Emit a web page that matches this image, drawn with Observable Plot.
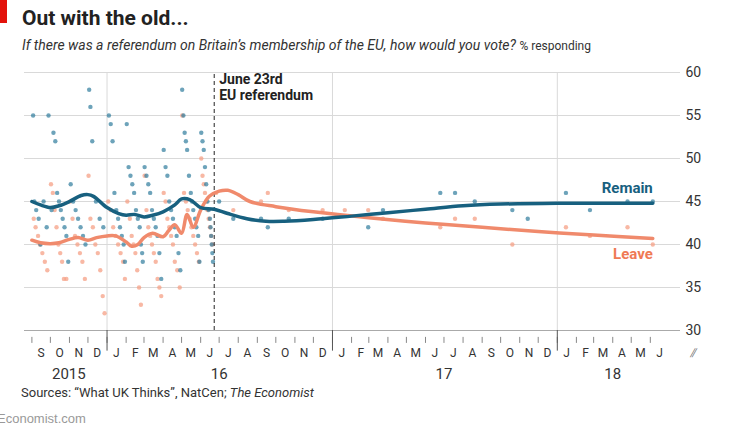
<!DOCTYPE html>
<html><head><meta charset="utf-8">
<script src="https://cdn.jsdelivr.net/npm/d3@7"></script>
<script src="https://cdn.jsdelivr.net/npm/@observablehq/plot@0.6"></script>
<style>
body{margin:0;background:#fff;font-family:"Liberation Sans Narrow","Roboto",sans-serif;width:731px;height:426px;position:relative;overflow:hidden}
#tag{position:absolute;left:0;top:0;width:7px;height:23px;background:#e3120b}
#title{position:absolute;left:22px;top:6px;font-size:21px;font-weight:bold;color:#222}
#sub{position:absolute;left:22px;top:37px;font-size:14px;color:#333}
#chart{position:absolute;left:0;top:62px}
#src{position:absolute;left:21px;top:385px;font-size:13px;color:#333}
#eco{position:absolute;left:-3px;top:411px;font-size:13px;color:#999;font-family:"Liberation Sans",sans-serif}
</style></head><body>
<div id="tag"></div>
<div id="title">Out with the old...</div>
<div id="sub"><i>If there was a referendum on Britain’s membership of the EU, how would you vote?</i> <span style="font-size:12px">% responding</span></div>
<div id="chart"></div>
<div id="src">Sources: “What UK Thinks”, NatCen; <i>The Economist</i></div>
<div id="eco">Economist.com</div>
<script>
const remainDots = [
["2015-09-03",55],["2015-09-05",45],["2015-09-08",44],["2015-09-12",43],["2015-09-15",40],["2015-09-20",45],["2015-09-25",42],["2015-09-28",55],
["2015-10-03",44],["2015-10-06",53],["2015-10-09",52],["2015-10-12",46],["2015-10-15",45],["2015-10-18",44],["2015-10-21",43],["2015-10-24",42],["2015-10-27",41],["2015-10-30",38],
["2015-11-03",47],["2015-11-07",45],["2015-11-11",44],["2015-11-15",43],["2015-11-19",42],["2015-11-23",41],["2015-11-27",40],
["2015-12-03",58],["2015-12-05",56],["2015-12-08",52],["2015-12-14",45],["2015-12-20",43],["2015-12-26",42],
["2016-01-04",55],["2016-01-07",54],["2016-01-10",52],["2016-01-13",46],["2016-01-16",44],["2016-01-19",43],["2016-01-22",42],["2016-01-25",41],["2016-01-28",40],["2016-01-30",38],
["2016-02-02",54],["2016-02-05",49],["2016-02-08",48],["2016-02-11",47],["2016-02-14",46],["2016-02-17",44],["2016-02-20",43],["2016-02-23",42],["2016-02-25",40],["2016-02-27",39],["2016-02-28",38],
["2016-03-02",49],["2016-03-05",48],["2016-03-08",47],["2016-03-11",46],["2016-03-14",44],["2016-03-17",43],["2016-03-20",42],["2016-03-23",41],["2016-03-26",39],["2016-03-29",36],
["2016-04-02",51],["2016-04-05",49],["2016-04-08",48],["2016-04-11",45],["2016-04-14",44],["2016-04-17",43],["2016-04-20",42],["2016-04-23",41],["2016-04-26",39],["2016-04-29",37],
["2016-05-02",58],["2016-05-04",55],["2016-05-06",53],["2016-05-08",52],["2016-05-10",51],["2016-05-13",48],["2016-05-16",46],["2016-05-18",45],["2016-05-20",44],["2016-05-23",43],["2016-05-25",42],["2016-05-28",41],["2016-05-30",38],
["2016-06-02",53],["2016-06-04",52],["2016-06-06",51],["2016-06-08",49],["2016-06-10",47],["2016-06-12",45],["2016-06-14",44],["2016-06-16",43],["2016-06-17",42],["2016-06-18",41],["2016-06-19",40],["2016-06-20",39],["2016-06-21",38],
["2016-07-01",45],["2016-07-24",43],["2016-09-07",43],["2016-09-18",42],["2016-10-22",43],["2016-12-16",43],["2017-02-28",42],["2017-03-24",44],
["2017-06-25",46],["2017-07-19",46],["2017-08-20",45],["2017-10-20",44],["2017-11-14",43],["2018-01-15",46],["2018-02-23",44],["2018-04-25",45],["2018-06-05",45]
];
const leaveDots = [
["2015-09-04",43],["2015-09-07",42],["2015-09-11",41],["2015-09-14",40],["2015-09-18",39],["2015-09-22",38],["2015-09-26",37],
["2015-10-02",47],["2015-10-05",46],["2015-10-08",44],["2015-10-11",42],["2015-10-14",40],["2015-10-17",39],["2015-10-20",38],["2015-10-23",36],["2015-10-27",36],
["2015-11-02",45],["2015-11-06",43],["2015-11-10",41],["2015-11-14",40],["2015-11-18",39],["2015-11-22",38],["2015-11-26",36],
["2015-12-02",48],["2015-12-05",43],["2015-12-09",42],["2015-12-13",40],["2015-12-17",39],["2015-12-21",37],["2015-12-25",34],["2015-12-28",32],
["2016-01-03",45],["2016-01-07",44],["2016-01-11",42],["2016-01-15",41],["2016-01-19",40],["2016-01-23",39],["2016-01-27",38],["2016-01-30",36],
["2016-02-03",45],["2016-02-07",43],["2016-02-10",41],["2016-02-13",40],["2016-02-16",39],["2016-02-19",37],["2016-02-22",35],["2016-02-25",33],
["2016-03-02",48],["2016-03-05",44],["2016-03-08",42],["2016-03-11",41],["2016-03-14",40],["2016-03-17",39],["2016-03-20",38],["2016-03-23",36],["2016-03-26",35],["2016-03-29",34],
["2016-04-02",46],["2016-04-05",45],["2016-04-08",43],["2016-04-11",42],["2016-04-14",41],["2016-04-17",40],["2016-04-20",38],["2016-04-24",37],["2016-04-28",35],
["2016-05-02",55],["2016-05-05",46],["2016-05-08",45],["2016-05-11",44],["2016-05-14",43],["2016-05-17",42],["2016-05-20",41],["2016-05-23",40],["2016-05-26",39],["2016-05-29",38],
["2016-06-02",50],["2016-06-04",48],["2016-06-06",47],["2016-06-08",46],["2016-06-10",45],["2016-06-12",44],["2016-06-14",43],["2016-06-16",42],["2016-06-18",41],["2016-06-20",40],
["2016-06-26",46],["2016-07-24",44],["2016-09-07",45],["2016-09-18",46],["2016-10-22",44],["2016-12-16",44],["2017-01-21",44],["2017-02-28",44],["2017-03-24",43],
["2017-06-25",42],["2017-07-19",43],["2017-08-20",43],["2017-10-20",40],["2018-01-15",42],["2018-02-23",41],["2018-04-25",42],["2018-06-05",40]
];
const remainTrend = [
["2015-09-01",45],["2015-09-15",44.6],["2015-10-01",44.3],["2015-10-15",44.5],["2015-11-01",45],["2015-11-20",45.7],["2015-12-01",45.8],["2015-12-10",45.6],
["2016-01-01",44.3],["2016-01-20",43.6],["2016-02-01",43.4],["2016-02-15",43.5],["2016-03-01",43.2],["2016-03-15",43.4],["2016-04-01",43.8],["2016-04-20",44.6],
["2016-05-01",45.3],["2016-05-15",45.2],["2016-06-01",44.3],["2016-06-23",44.1],["2016-07-15",43.6],["2016-08-15",43.0],["2016-09-15",42.7],["2016-10-15",42.7],
["2016-12-01",42.9],["2017-02-01",43.3],["2017-04-01",43.7],["2017-06-01",44.1],["2017-08-01",44.5],["2017-10-01",44.7],["2018-01-01",44.8],["2018-06-05",44.8]
];
const leaveTrend = [
["2015-09-01",40.5],["2015-09-15",40.2],["2015-10-01",40.1],["2015-10-15",40.2],["2015-11-01",40.6],["2015-11-15",40.8],["2015-12-01",40.5],["2015-12-15",40.8],
["2016-01-01",41.0],["2016-01-15",41.0],["2016-02-01",40.3],["2016-02-10",39.8],["2016-02-20",40.0],["2016-03-01",40.8],["2016-03-15",41.3],["2016-04-01",40.9],
["2016-04-10",41.6],["2016-04-20",42.3],["2016-05-01",41.3],["2016-05-10",43.5],["2016-05-20",42.0],["2016-06-01",44.0],["2016-06-15",45.6],["2016-07-01",46.2],
["2016-07-15",46.3],["2016-08-01",45.8],["2016-08-20",45.0],["2016-10-01",44.4],["2016-12-01",43.8],["2017-03-01",43.1],["2017-06-01",42.5],["2017-09-01",42.0],
["2017-12-01",41.5],["2018-03-01",41.1],["2018-06-05",40.7]
];
const yTicks = [30,35,40,45,50,55,60];
const monthLetters = "JFMAMJJASOND".split("");
const yearLabels = [["2015-10-31","2015"],["2016-07-01","16"],["2017-07-01","17"],["2018-04-01","18"]];

const P = d => d3.utcParse("%Y-%m-%d")(d);
const toObj = arr => arr.map(([d,v]) => ({date:P(d), v}));
const rD = toObj(remainDots), lD = toObj(leaveDots), rT = toObj(remainTrend), lT = toObj(leaveTrend);
const months = d3.utcMonths(P("2015-09-01"), P("2018-07-01"));
const monthMid = months.map(m => ({date:new Date(+m + 15*864e5), l: monthLetters[m.getUTCMonth()]}));
const years = [P("2016-01-01"),P("2017-01-01"),P("2018-01-01")];
const blue = "#17607f", orange = "#f08a6c";
const curve = "catmull-rom";

const chart = Plot.plot({
  width:731, height:330, marginTop:10, marginLeft:24, marginRight:51, marginBottom:62,
  style:{fontFamily:'"Liberation Sans Narrow","Roboto",sans-serif', fontSize:"13px", color:"#333"},
  x:{type:"utc", domain:[P("2015-08-20"), P("2018-07-20")], axis:null},
  y:{domain:[30,60], axis:null},
  marks:[
    Plot.ruleY(yTicks.filter(t=>t>30), {stroke:"#d9d9d9", strokeWidth:1}),
    Plot.ruleX(years, {y1:30, y2:60, stroke:"#d9d9d9"}),
    Plot.ruleY([30], {stroke:"#aaa"}),
    Plot.text(yTicks, {x:P("2018-07-20"), y:d=>d, text:d=>String(d), textAnchor:"start", dx:5, fontSize:14, fill:"#333"}),
    Plot.dot(lD, {x:"date", y:"v", r:2.2, fill:"#f5a085", fillOpacity:0.75}),
    Plot.dot(rD, {x:"date", y:"v", r:2.2, fill:"#2f7c9c", fillOpacity:0.7}),
    Plot.ruleX([P("2016-06-23")], {y1:30, y2:60, stroke:"#222", strokeDasharray:"4,3", strokeWidth:1}),
    Plot.text(["June 23rd"], {x:P("2016-06-23"), y:60, dx:5, dy:7, textAnchor:"start", fontWeight:"bold", fontSize:14, fill:"#222"}),
    Plot.text(["EU referendum"], {x:P("2016-06-23"), y:60, dx:5, dy:23, textAnchor:"start", fontWeight:"bold", fontSize:14, fill:"#222"}),
    Plot.line(lT, {x:"date", y:"v", stroke:orange, strokeWidth:3.5, curve}),
    Plot.line(rT, {x:"date", y:"v", stroke:blue, strokeWidth:3.5, curve}),
    Plot.text(["Remain"], {x:P("2018-06-05"), y:46.6, textAnchor:"end", fontWeight:"bold", fontSize:15, fill:blue}),
    Plot.text(["Leave"], {x:P("2018-06-05"), y:38.9, textAnchor:"end", fontWeight:"bold", fontSize:15, fill:"#ef7a55"}),
    Plot.ruleX(months, {y1:29.2, y2:28.5, stroke:"#888"}),
    Plot.ruleX(years, {y1:30, y2:27.6, stroke:"#555"}),
    Plot.text(monthMid, {x:"date", y:27.4, text:"l", fontSize:12, fill:"#333"}),
    Plot.text(yearLabels, {x:d=>P(d[0]), y:24.9, text:d=>d[1], fontSize:15, fill:"#333"}),
    Plot.text(["⫽"], {x:P("2018-07-20"), y:27.4, dx:12, fontSize:12, fill:"#555", fontStyle:"italic"})
  ]
});
document.getElementById("chart").appendChild(chart);
</script></body></html>
